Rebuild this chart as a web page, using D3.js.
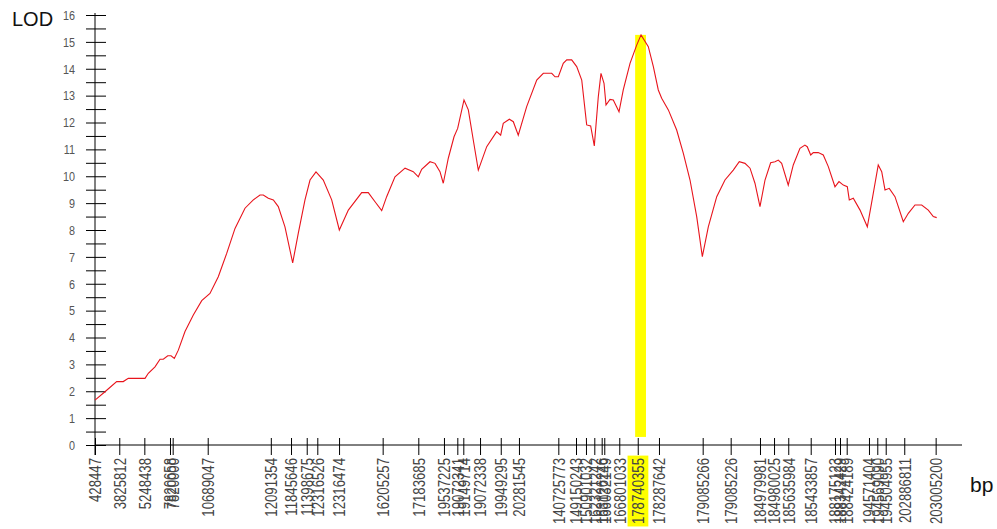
<!DOCTYPE html>
<html>
<head>
<meta charset="utf-8">
<script src="https://cdn.jsdelivr.net/npm/d3@7/dist/d3.min.js"></script>
<style>
  body { margin: 0; background: #fff; }
  svg { display: block; }
</style>
</head>
<body>
<svg id="chart" width="997" height="529"></svg>
<script>
// marker positions along the chromosome (map units) and their bp labels
const markerPos = [0, 2.80, 5.69, 8.65, 8.96, 13.0, 20.28, 22.61, 24.42, 25.64,
    28.15, 33.18, 37.29, 40.25, 41.79, 42.48, 44.41, 46.80, 48.90, 53.44,
    55.48, 56.63, 57.59, 58.44, 58.74, 60.47, 62.60, 65.05, 70.09, 73.32,
    76.70, 78.32, 79.96, 82.55, 85.35, 85.93, 86.70, 89.27, 90.23, 91.20,
    93.34, 96.96];
const markerLabels = ["428447", "3825812", "5248438", "7820658", "7820000", "10689047",
    "12091354", "11845646", "11398675", "12316526", "12316474", "16205257", "17183685",
    "19537225", "19072341", "19149714", "19072338", "19949295", "20281545", "140725773",
    "149150243", "150901032", "162321242", "163126246", "166032149", "166801033",
    "178740355", "178287642", "179085266", "179085226", "184979981", "184980025",
    "185635984", "185433857", "188175123", "188342429", "188424189", "194571404",
    "194569090", "194504955", "202886811", "203005200"];
const peakMarker = "178740355";
const peakBand = [62.3, 63.55];

// LOD profile
const lodPos = [0.0, 1.15, 2.50, 3.26, 3.84, 5.77, 6.15, 6.92, 7.50, 7.88, 8.39, 8.77, 9.15,
    9.61, 10.38, 11.34, 12.31, 13.26, 14.22, 15.19, 16.15, 17.30, 18.26, 19.03, 19.41,
    19.99, 20.57, 21.14, 21.91, 22.80, 23.45, 24.22, 24.80, 25.49, 26.33, 27.30, 28.18,
    29.22, 30.76, 31.52, 32.30, 33.07, 33.64, 34.60, 35.76, 36.71, 37.29, 37.68, 38.64,
    39.22, 39.79, 40.17, 40.75, 41.41, 41.83, 42.56, 43.06, 43.63, 44.21, 45.18, 46.33,
    46.79, 47.09, 47.79, 48.25, 48.82, 49.79, 50.95, 51.71, 52.68, 53.06, 53.44, 54.01,
    54.41, 54.98, 55.56, 56.14, 56.71, 57.17, 57.59, 58.05, 58.36, 58.71, 58.94, 59.40,
    59.78, 60.44, 60.93, 61.71, 62.48, 62.98, 63.82, 64.40, 64.97, 65.36, 66.13, 67.09,
    67.86, 68.63, 69.40, 70.05, 70.74, 71.71, 72.66, 73.62, 74.31, 74.97, 75.55, 76.12,
    76.70, 77.28, 77.93, 78.43, 78.81, 79.20, 79.96, 80.54, 81.31, 81.88, 82.15, 82.55,
    82.85, 83.42, 84.00, 84.58, 85.35, 85.81, 86.31, 86.77, 87.00, 87.46, 88.24, 89.08,
    89.70, 90.34, 90.74, 91.12, 91.61, 92.27, 93.23, 93.81, 94.58, 95.35, 96.11, 96.69,
    97.08];
const lodValues = [1.67, 1.98, 2.36, 2.36, 2.48, 2.48, 2.67, 2.91, 3.19, 3.19, 3.32, 3.32, 3.22,
    3.53, 4.22, 4.84, 5.37, 5.64, 6.26, 7.13, 8.06, 8.81, 9.12, 9.30, 9.30,
    9.18, 9.12, 8.87, 8.12, 6.78, 7.88, 9.12, 9.86, 10.16, 9.86, 9.12, 8.00,
    8.74, 9.39, 9.39, 9.05, 8.72, 9.24, 9.98, 10.30, 10.17, 9.98, 10.26, 10.54,
    10.48, 10.17, 9.74, 10.67, 11.47, 11.78, 12.84, 12.47, 11.35, 10.23, 11.10, 11.66,
    11.53, 11.97, 12.12, 12.03, 11.53, 12.59, 13.58, 13.83, 13.83, 13.70, 13.70, 14.20,
    14.33, 14.33, 14.08, 13.58, 11.91, 11.87, 11.13, 12.96, 13.83, 13.46, 12.65, 12.86,
    12.84, 12.40, 13.21, 14.20, 14.88, 15.26, 14.82, 14.08, 13.21, 12.90, 12.47, 11.72,
    10.85, 9.86, 8.50, 7.01, 8.12, 9.24, 9.86, 10.23, 10.54, 10.48, 10.30, 9.74,
    8.87, 9.86, 10.50, 10.54, 10.60, 10.48, 9.67, 10.42, 11.04, 11.16, 11.10, 10.79,
    10.88, 10.88, 10.79, 10.36, 9.61, 9.80, 9.67, 9.61, 9.12, 9.18, 8.74, 8.12,
    9.24, 10.42, 10.17, 9.49, 9.55, 9.24, 8.31, 8.62, 8.93, 8.93, 8.74, 8.50,
    8.46];
const yTicks = d3.range(0, 16.01, 0.5);

const labelFont = "'Liberation Sans', Arial, sans-serif";
const squeeze = 0.8; // tick labels are a narrow face
const svg = d3.select("#chart");

// scales
const x = d3.scaleLinear().domain([0, 100]).range([95, 962]);
const y = d3.scaleLinear().domain([0, 16]).range([445, 15]);

const peakIdx = markerLabels.indexOf(peakMarker);
const peakLod = d3.max(lodValues);

// yellow band at the peak marker
svg.append("rect")
    .attr("x", x(peakBand[0]))
    .attr("width", x(peakBand[1]) - x(peakBand[0]))
    .attr("y", y(peakLod))
    .attr("height", y(0.3) - y(peakLod))
    .attr("fill", "#ffff00");

// y axis
const yAxis = d3.axisLeft(y)
    .tickValues(yTicks)
    .tickSize(9)
    .tickFormat(d => Number.isInteger(d) ? d : "");
const yg = svg.append("g").attr("transform", `translate(${x(0)},0)`).call(yAxis);
yg.select(".domain").remove();
yg.selectAll(".tick line")
    .attr("x1", 11)
    .attr("stroke", "#000");
yg.selectAll(".tick text")
    .attr("transform", `scale(${squeeze},1)`)
    .attr("x", -20 / squeeze)
    .attr("fill", "#555")
    .style("font-family", labelFont)
    .style("font-size", "13.5px");
svg.append("line")
    .attr("x1", x(0)).attr("x2", x(0))
    .attr("y1", 13).attr("y2", y(0) + 10)
    .attr("stroke", "#000");

// x axis
const xAxis = d3.axisBottom(x)
    .tickValues(markerPos)
    .tickSize(10)
    .tickFormat((d, i) => markerLabels[i]);
const xg = svg.append("g").attr("transform", `translate(0,${y(0)})`).call(xAxis);
xg.select(".domain").remove();
xg.selectAll(".tick line")
    .attr("y1", -7)
    .attr("stroke", "#000");
xg.selectAll(".tick text")
    .attr("transform", `rotate(-90) scale(${squeeze},1)`)
    .attr("x", -13 / squeeze)
    .attr("y", 0)
    .attr("dy", "0.35em")
    .attr("text-anchor", "end")
    .attr("fill", "#444")
    .style("font-family", labelFont)
    .style("font-size", "16.5px");
svg.append("line")
    .attr("x1", x(0)).attr("x2", x(100))
    .attr("y1", y(0)).attr("y2", y(0))
    .attr("stroke", "#000");

// highlight behind the peak marker label
xg.selectAll(".tick").filter((d, i) => i === peakIdx).each(function () {
    const t = d3.select(this).select("text");
    const bb = t.node().getBBox();
    // bbox is in the text's own (rotated, squeezed) frame
    d3.select(this).insert("rect", "text")
        .attr("transform", t.attr("transform"))
        .attr("x", bb.x - 3)
        .attr("y", bb.y - 1)
        .attr("width", bb.width + 6)
        .attr("height", bb.height + 2)
        .attr("fill", "#ffff00");
});

// LOD curve
const line = d3.line()
    .x((d, i) => x(lodPos[i]))
    .y(d => y(d));
svg.append("path")
    .datum(lodValues)
    .attr("d", line)
    .attr("fill", "none")
    .attr("stroke", "#e8141c")
    .attr("stroke-width", 1.1);

// axis titles
svg.append("text")
    .attr("x", 12).attr("y", 26)
    .style("font-family", labelFont)
    .style("font-size", "20px")
    .attr("fill", "#111")
    .text("LOD");
svg.append("text")
    .attr("x", 970).attr("y", 492)
    .style("font-family", labelFont)
    .style("font-size", "21px")
    .attr("fill", "#111")
    .text("bp");
</script>
</body>
</html>
